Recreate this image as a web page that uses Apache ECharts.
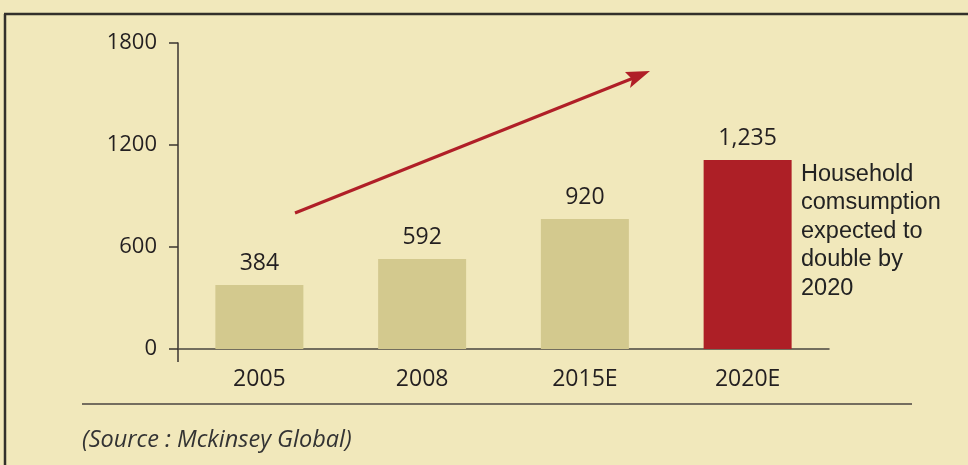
<!DOCTYPE html>
<html>
<head>
<meta charset="utf-8">
<script src="https://cdn.jsdelivr.net/npm/echarts@6/dist/echarts.min.js"></script>
<style>
  html, body { margin: 0; padding: 0; background: #f1e8bb; }
  #main { width: 968px; height: 465px; }
</style>
</head>
<body>
<div id="main"></div>
<script>
// data
var years = ['2005', '2008', '2015E', '2020E'];
var barHeights = [376, 529, 765, 1112];
var barLabels = ['384', '592', '920', '1,235'];
var yTicks = [0, 600, 1200, 1800];
var noteLines = ['Household', 'comsumption', 'expected to', 'double by', '2020'];
var sourceText = '(Source : Mckinsey Global)';

var beige = '#d3c98e';
var red = '#ad1f26';
var ink = '#231f20';

function myChartBar() {
    var dom = document.getElementById('main');
    var myChart = echarts.init(dom, null, { renderer: 'canvas' });

    var seriesData = barHeights.map(function (v, i) {
        return {
            value: v,
            itemStyle: { color: i === barHeights.length - 1 ? red : beige }
        };
    });

    var option = {
        backgroundColor: '#f1e8bb',
        animation: false,
        grid: { left: 178, right: 139, top: 43, bottom: 116, containLabel: false },
        xAxis: {
            type: 'category',
            data: years,
            axisLine: { lineStyle: { color: '#4a4540', width: 1.5 } },
            axisTick: { show: false },
            axisLabel: {
                color: ink,
                fontFamily: 'Open Sans',
                fontSize: 23,
                margin: 19
            }
        },
        yAxis: {
            type: 'value',
            min: yTicks[0],
            max: yTicks[yTicks.length - 1],
            interval: yTicks[1] - yTicks[0],
            splitLine: { show: false },
            axisLine: { show: true, lineStyle: { color: '#3a3530', width: 1.5 } },
            axisTick: { show: true, length: 9, lineStyle: { color: '#3a3530', width: 1.5 } },
            axisLabel: {
                color: ink,
                fontFamily: 'Open Sans',
                fontSize: 22,
                margin: 21,
                formatter: function (v) { return String(v); }
            }
        },
        series: [{
            type: 'bar',
            data: seriesData,
            barWidth: 88,
            label: {
                show: true,
                position: 'top',
                distance: 10,
                color: ink,
                fontFamily: 'Open Sans',
                fontSize: 23,
                formatter: function (p) { return barLabels[p.dataIndex]; }
            }
        }],
        graphic: [
            // frame
            { type: 'line', shape: { x1: 4, y1: 14, x2: 968, y2: 14 }, style: { stroke: '#33302b', lineWidth: 2.5 } },
            { type: 'line', shape: { x1: 5, y1: 14, x2: 5, y2: 465 }, style: { stroke: '#33302b', lineWidth: 2.5 } },
            // y axis tail below zero
            { type: 'line', shape: { x1: 178, y1: 349, x2: 178, y2: 362 }, style: { stroke: '#3a3530', lineWidth: 1.5 } },
            // rule above source
            { type: 'line', shape: { x1: 82, y1: 404, x2: 912, y2: 404 }, style: { stroke: '#4a4540', lineWidth: 1.5 } },
            {
                type: 'text', left: 82, top: 429,
                style: { text: sourceText, fill: '#333', font: 'italic 23.5px "Open Sans"' }
            },
            // trend arrow
            {
                type: 'line', shape: { x1: 295, y1: 213, x2: 636, y2: 77 },
                style: { stroke: '#b01f27', lineWidth: 3 }
            },
            {
                type: 'polygon',
                shape: { points: [[650, 71], [625, 72], [632, 79], [630, 88]] },
                style: { fill: '#b01f27' }
            },
            {
                type: 'text', left: 801, top: 160,
                style: {
                    text: noteLines.join('\n'),
                    fill: '#222',
                    font: '23.5px "Liberation Sans"',
                    lineHeight: 28.5
                }
            }
        ]
    };

    if (option && typeof option === 'object') {
        myChart.setOption(option, true);
    }
}

myChartBar();
</script>
</body>
</html>
